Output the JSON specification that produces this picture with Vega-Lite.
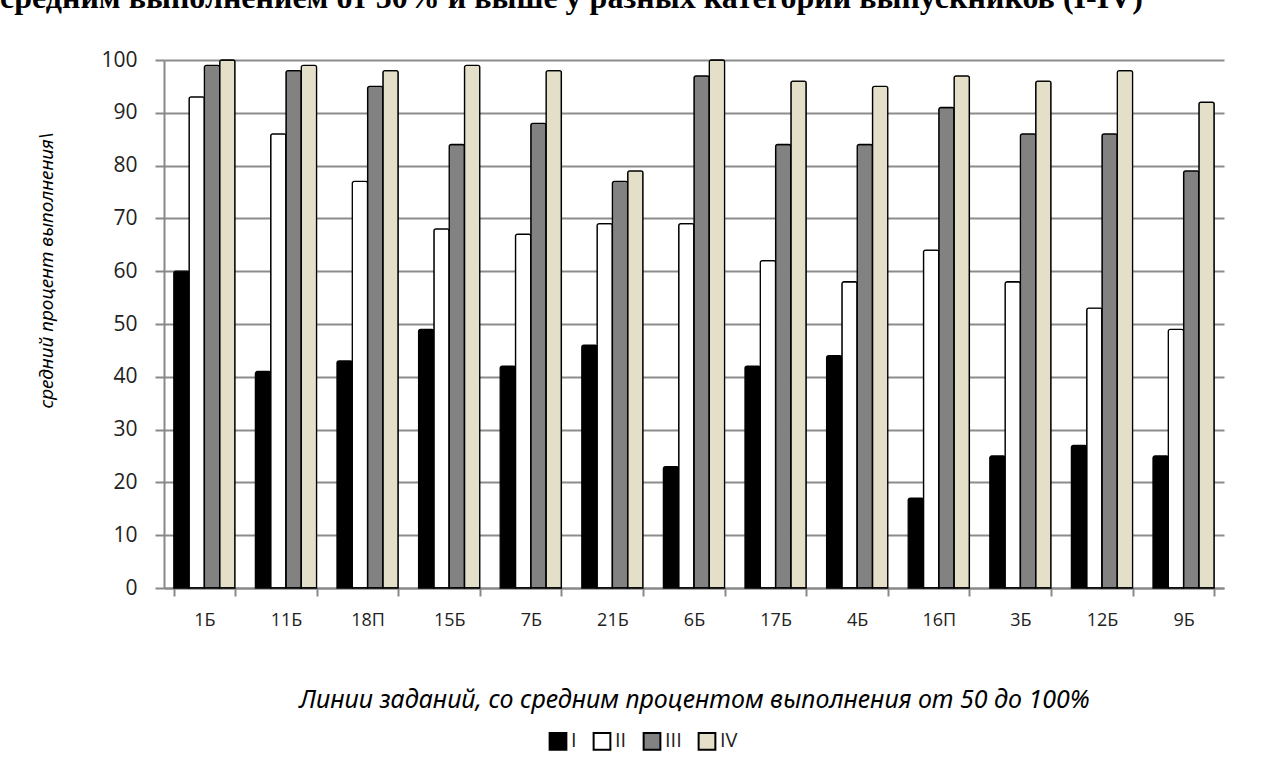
{
  "$schema": "https://vega.github.io/schema/vega-lite/v6.json",
  "autosize": "none",
  "width": 1060,
  "height": 528,
  "padding": {"left": 164, "top": 60, "right": 43, "bottom": 184},
  "background": "white",
  "title": {
    "text": "средним выполнением от 50% и выше у разных категорий выпускников (I-IV)",
    "anchor": "start",
    "frame": "group",
    "dx": -164,
    "offset": 34,
    "font": "Liberation Serif",
    "fontSize": 32,
    "fontWeight": "bold",
    "color": "black"
  },
  "data": {
    "values": [
      {"line": "1Б", "cat": "I", "pct": 60}, {"line": "1Б", "cat": "II", "pct": 93}, {"line": "1Б", "cat": "III", "pct": 99}, {"line": "1Б", "cat": "IV", "pct": 100},
      {"line": "11Б", "cat": "I", "pct": 41}, {"line": "11Б", "cat": "II", "pct": 86}, {"line": "11Б", "cat": "III", "pct": 98}, {"line": "11Б", "cat": "IV", "pct": 99},
      {"line": "18П", "cat": "I", "pct": 43}, {"line": "18П", "cat": "II", "pct": 77}, {"line": "18П", "cat": "III", "pct": 95}, {"line": "18П", "cat": "IV", "pct": 98},
      {"line": "15Б", "cat": "I", "pct": 49}, {"line": "15Б", "cat": "II", "pct": 68}, {"line": "15Б", "cat": "III", "pct": 84}, {"line": "15Б", "cat": "IV", "pct": 99},
      {"line": "7Б", "cat": "I", "pct": 42}, {"line": "7Б", "cat": "II", "pct": 67}, {"line": "7Б", "cat": "III", "pct": 88}, {"line": "7Б", "cat": "IV", "pct": 98},
      {"line": "21Б", "cat": "I", "pct": 46}, {"line": "21Б", "cat": "II", "pct": 69}, {"line": "21Б", "cat": "III", "pct": 77}, {"line": "21Б", "cat": "IV", "pct": 79},
      {"line": "6Б", "cat": "I", "pct": 23}, {"line": "6Б", "cat": "II", "pct": 69}, {"line": "6Б", "cat": "III", "pct": 97}, {"line": "6Б", "cat": "IV", "pct": 100},
      {"line": "17Б", "cat": "I", "pct": 42}, {"line": "17Б", "cat": "II", "pct": 62}, {"line": "17Б", "cat": "III", "pct": 84}, {"line": "17Б", "cat": "IV", "pct": 96},
      {"line": "4Б", "cat": "I", "pct": 44}, {"line": "4Б", "cat": "II", "pct": 58}, {"line": "4Б", "cat": "III", "pct": 84}, {"line": "4Б", "cat": "IV", "pct": 95},
      {"line": "16П", "cat": "I", "pct": 17}, {"line": "16П", "cat": "II", "pct": 64}, {"line": "16П", "cat": "III", "pct": 91}, {"line": "16П", "cat": "IV", "pct": 97},
      {"line": "3Б", "cat": "I", "pct": 25}, {"line": "3Б", "cat": "II", "pct": 58}, {"line": "3Б", "cat": "III", "pct": 86}, {"line": "3Б", "cat": "IV", "pct": 96},
      {"line": "12Б", "cat": "I", "pct": 27}, {"line": "12Б", "cat": "II", "pct": 53}, {"line": "12Б", "cat": "III", "pct": 86}, {"line": "12Б", "cat": "IV", "pct": 98},
      {"line": "9Б", "cat": "I", "pct": 25}, {"line": "9Б", "cat": "II", "pct": 49}, {"line": "9Б", "cat": "III", "pct": 79}, {"line": "9Б", "cat": "IV", "pct": 92}
    ]
  },
  "mark": {"type": "bar", "stroke": "black", "strokeWidth": 1.3, "cornerRadiusTopLeft": 2, "cornerRadiusTopRight": 2},
  "encoding": {
    "x": {
      "field": "line",
      "type": "nominal",
      "sort": null,
      "scale": {"paddingInner": 0.25, "paddingOuter": 0.12},
      "axis": {
        "title": "Линии заданий, со средним процентом выполнения от 50 до 100%",
        "titleFont": "Noto Sans",
        "titleFontStyle": "italic",
        "titleFontWeight": "normal",
        "titleFontSize": 25,
        "titleColor": "black",
        "titlePadding": 58,
        "labelAngle": 0,
        "labelFont": "Open Sans",
        "labelFontSize": 18,
        "labelColor": "#222222",
        "labelPadding": 15,
        "domainColor": "#888888",
        "domainWidth": 2,
        "tickColor": "#888888",
        "tickWidth": 2,
        "tickSize": 8,
        "tickBand": "extent",
        "grid": false
      }
    },
    "xOffset": {"field": "cat", "type": "nominal", "sort": ["I", "II", "III", "IV"]},
    "y": {
      "field": "pct",
      "type": "quantitative",
      "scale": {"domain": [0, 100], "nice": false},
      "axis": {
        "title": "средний процент выполнения\\",
        "titleFont": "Noto Sans",
        "titleFontStyle": "italic",
        "titleFontWeight": "normal",
        "titleFontSize": 19,
        "titleColor": "black",
        "titlePadding": 44,
        "titleY": 210,
        "values": [0, 10, 20, 30, 40, 50, 60, 70, 80, 90, 100],
        "labelFont": "Open Sans",
        "labelFontSize": 21,
        "labelColor": "#222222",
        "labelPadding": 18,
        "domainColor": "#888888",
        "domainWidth": 2,
        "tickColor": "#888888",
        "tickWidth": 2,
        "tickSize": 9,
        "grid": true,
        "gridColor": "#8c8c8c",
        "gridWidth": 2
      }
    },
    "color": {
      "field": "cat",
      "type": "nominal",
      "sort": ["I", "II", "III", "IV"],
      "scale": {"domain": ["I", "II", "III", "IV"], "range": ["#000000", "#ffffff", "#828282", "#e4dfc9"]},
      "legend": {
        "title": null,
        "orient": "none",
        "direction": "horizontal",
        "legendX": 384,
        "legendY": 671,
        "symbolType": "square",
        "symbolSize": 280,
        "symbolStrokeColor": "black",
        "symbolStrokeWidth": 2,
        "labelFont": "Open Sans",
        "labelFontSize": 20,
        "labelColor": "#222222",
        "labelOffset": 3,
        "columnPadding": 12
      }
    }
  },
  "config": {
    "view": {"stroke": null}
  }
}
